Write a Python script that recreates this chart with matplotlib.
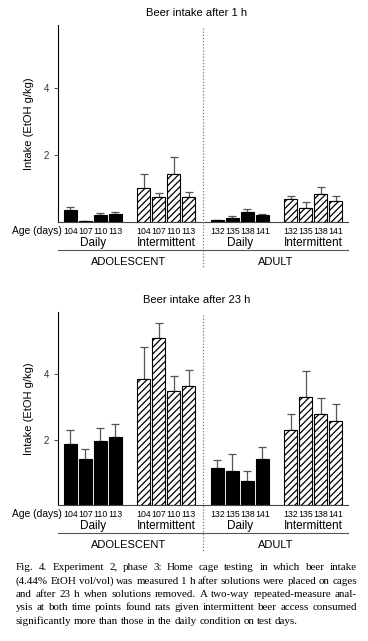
import matplotlib
matplotlib.use("Agg")
import matplotlib.pyplot as plt
import matplotlib.transforms as mtransforms
from matplotlib.lines import Line2D

plt.rcParams['font.family'] = ['Liberation Sans', 'DejaVu Sans']
plt.rcParams['hatch.linewidth'] = 0.9

ages_adolescent = [104, 107, 110, 113]
ages_adult = [132, 135, 138, 141]
group_names = ["Daily", "Intermittent", "Daily", "Intermittent"]

# after 1 h: means and top of error bar (mean + SEM)
h1_mean = [[0.36, 0.04, 0.20, 0.23],
           [1.03, 0.74, 1.44, 0.75],
           [0.05, 0.13, 0.29, 0.20],
           [0.69, 0.43, 0.85, 0.63]]
h1_top = [[0.44, 0.04, 0.26, 0.30],
          [1.44, 0.88, 1.94, 0.89],
          [0.05, 0.17, 0.39, 0.24],
          [0.79, 0.60, 1.05, 0.79]]

# after 23 h
h23_mean = [[1.86, 1.40, 1.97, 2.08],
            [3.85, 5.11, 3.49, 3.64],
            [1.15, 1.06, 0.74, 1.42],
            [2.29, 3.30, 2.78, 2.56]]
h23_top = [[2.31, 1.72, 2.37, 2.48],
           [4.82, 5.56, 3.95, 4.13],
           [1.38, 1.56, 1.05, 1.79],
           [2.80, 4.09, 3.26, 3.10]]

group_start = [0, 4.87, 9.8, 14.67]
W, H = 368, 641
fig = plt.figure(figsize=(W / 100, H / 100), dpi=100)


def fy(py):
    return 1 - py / H


def panel(top_px, base_px, title, means, tops):
    ax = fig.add_axes([58 / W, fy(base_px), 290 / W, (base_px - top_px) / H])
    for g in range(4):
        xs = [group_start[g] + i for i in range(4)]
        hatched = g % 2 == 1
        ax.bar(xs, means[g], width=0.87, color='white' if hatched else 'black',
               edgecolor='black', linewidth=0.8, hatch='/////' if hatched else None,
               zorder=2)
        up = [t - m for t, m in zip(tops[g], means[g])]
        ax.errorbar(xs, means[g], yerr=[[0] * 4, up], fmt='none', ecolor='#555555',
                    elinewidth=0.9, capsize=3, capthick=0.9, zorder=1)
    ax.set_xlim(-0.83, 18.5)
    ax.set_ylim(0, 5.9)
    ax.set_yticks([2, 4])
    ax.tick_params(axis='y', labelsize=7, length=3, width=0.6, colors='#333333')
    ax.set_xticks([])
    for s in ['top', 'right']:
        ax.spines[s].set_visible(False)
    ax.spines['left'].set_linewidth(0.8)
    ax.spines['bottom'].set_color('#444444')
    ax.set_ylabel("Intake (EtOH g/kg)", fontsize=8, labelpad=7)
    fig.text(197 / W, fy(top_px - 12), title, ha='center', va='center', fontsize=8)

    tr = mtransforms.blended_transform_factory(ax.transData, fig.transFigure)
    fig.text(12 / W, fy(base_px + 9), "Age (days)", ha='left', va='center', fontsize=7.4)
    for g in range(4):
        ages = ages_adolescent if g < 2 else ages_adult
        for i in range(4):
            ax.text(group_start[g] + i, fy(base_px + 9), str(ages[i]), transform=tr,
                    ha='center', va='center', fontsize=6.3)
        ax.text(group_start[g] + 1.5, fy(base_px + 21), group_names[g], transform=tr,
                ha='center', va='center', fontsize=8.5)
    trl = mtransforms.blended_transform_factory(ax.transAxes, fig.transFigure)
    fig.add_artist(Line2D([0, 1], [fy(base_px + 28), fy(base_px + 28)], transform=trl,
                          color='#555555', lw=0.8))
    ax.text(3.9, fy(base_px + 40), "ADOLESCENT", transform=tr, ha='center',
            va='center', fontsize=8)
    ax.text(13.7, fy(base_px + 40), "ADULT", transform=tr, ha='center',
            va='center', fontsize=8)
    fig.add_artist(Line2D([8.83, 8.83], [fy(top_px + 3), fy(base_px + 46)], transform=tr,
                          color='#777777', lw=0.9, ls=(0, (1, 1.5))))
    return ax


panel(25, 222, "Beer intake after 1 h", h1_mean, h1_top)
panel(312, 505.3, "Beer intake after 23 h", h23_mean, h23_top)

caption = [
    "Fig.  4.  Experiment 2, phase 3: Home cage testing in which beer intake",
    "(4.44% EtOH vol/vol) was measured 1 h after solutions were placed on cages",
    "and after 23 h when solutions removed. A two-way repeated-measure anal-",
    "ysis at both time points found rats given intermittent beer access consumed",
    "significantly more than those in the daily condition on test days.",
]
line_base = [569.5, 583.5, 597, 610.5, 624]
x0, x1 = 16, 357
renderer = fig.canvas.get_renderer()
for k, line in enumerate(caption):
    words = [w for w in line.split(" ") if w]
    arts = [fig.text(0, fy(line_base[k]), w, fontsize=7.9, family='Liberation Serif',
                     ha='left', va='baseline') for w in words]
    widths = [a.get_window_extent(renderer).width for a in arts]
    if k < len(caption) - 1:
        gap = max((x1 - x0 - sum(widths)) / (len(words) - 1), 1.0)
    else:
        gap = 2.6
    x = x0
    for a, w in zip(arts, widths):
        a.set_x(x / W)
        x += w + gap

fig.savefig("out.png", dpi=100, facecolor='white')
